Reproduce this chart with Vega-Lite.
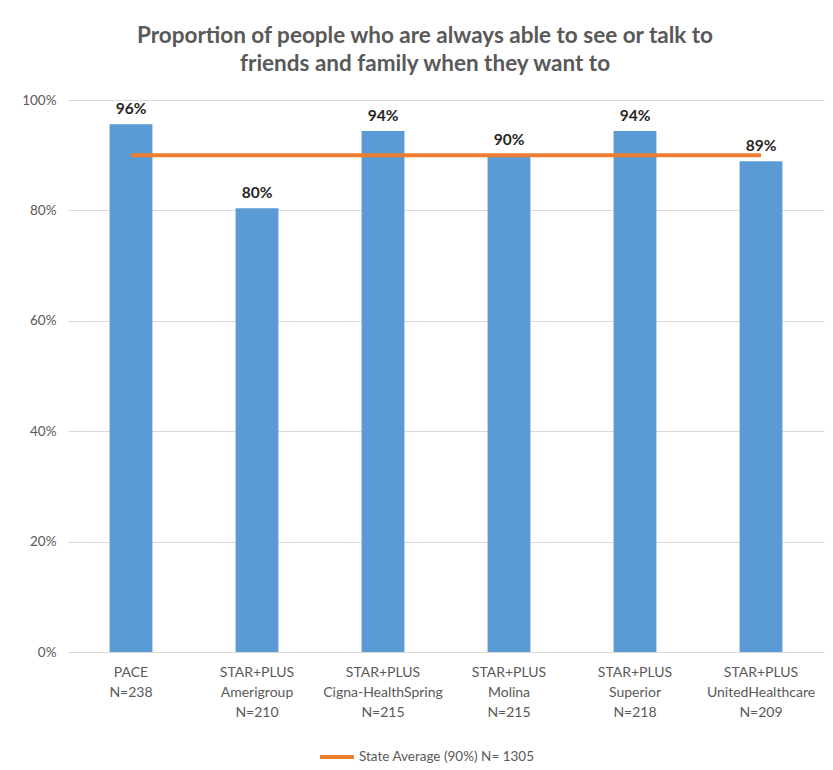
{
  "$schema": "https://vega.github.io/schema/vega-lite/v6.json",
  "autosize": {"type": "none"},
  "width": 756,
  "height": 552,
  "padding": {"left": 68, "top": 100, "right": 9, "bottom": 118},
  "background": "white",
  "config": {
    "font": "Lato",
    "view": {"stroke": null},
    "axisY": {
      "title": null,
      "format": ".0%",
      "tickCount": 5,
      "labelOverlap": false,
      "labelFontSize": 13.5,
      "labelColor": "#595959",
      "labelPadding": 12,
      "ticks": false,
      "domain": false,
      "gridColor": "#d9d9d9",
      "gridWidth": 1
    }
  },
  "title": {
    "text": ["Proportion of people who are always able to see or talk to", "friends and family when they want to"],
    "fontSize": 22.5,
    "fontWeight": "bold",
    "color": "#595959",
    "lineHeight": 28,
    "anchor": "middle",
    "dx": -21,
    "offset": 18
  },
  "data": {
    "values": [
      {"plan": "PACE|N=238", "value": 0.956, "avg": 0.90},
      {"plan": "STAR+PLUS|Amerigroup|N=210", "value": 0.804, "avg": 0.90},
      {"plan": "STAR+PLUS|Cigna-HealthSpring|N=215", "value": 0.944, "avg": 0.90},
      {"plan": "STAR+PLUS|Molina|N=215", "value": 0.90, "avg": 0.90},
      {"plan": "STAR+PLUS|Superior|N=218", "value": 0.944, "avg": 0.90},
      {"plan": "STAR+PLUS|UnitedHealthcare|N=209", "value": 0.889, "avg": 0.90}
    ]
  },
  "encoding": {
    "x": {
      "field": "plan",
      "type": "nominal",
      "sort": null,
      "scale": {"paddingInner": 0.66, "paddingOuter": 0.33},
      "axis": {
        "title": null,
        "labelAngle": 0,
        "labelExpr": "split(datum.label, '|')",
        "labelFontSize": 14,
        "labelColor": "#595959",
        "labelLineHeight": 20,
        "labelPadding": 13,
        "ticks": false,
        "domainColor": "#d9d9d9",
        "domainWidth": 1
      }
    }
  },
  "layer": [
    {
      "mark": {"type": "bar", "color": "#5B9BD5"},
      "encoding": {
        "y": {
          "field": "value",
          "type": "quantitative",
          "title": null,
          "scale": {"domain": [0, 1]}
        }
      }
    },
    {
      "mark": {"type": "text", "dy": -10, "baseline": "alphabetic", "fontSize": 15.5, "fontWeight": "bold", "color": "#262626"},
      "encoding": {
        "y": {"field": "value", "type": "quantitative", "title": null},
        "text": {"field": "value", "type": "quantitative", "format": ".0%"}
      }
    },
    {
      "mark": {"type": "line", "strokeWidth": 4},
      "encoding": {
        "y": {"field": "avg", "type": "quantitative", "title": null},
        "color": {
          "datum": "State Average (90%) N= 1305",
          "scale": {"range": ["#ED7D31"]},
          "legend": {
            "title": null,
            "orient": "none",
            "legendX": 250,
            "legendY": 638,
            "symbolType": "stroke",
            "symbolStrokeWidth": 4,
            "symbolSize": 1150,
            "labelFontSize": 13.5,
            "labelLimit": 400,
            "labelColor": "#595959",
            "labelOffset": 3
          }
        }
      }
    }
  ]
}
